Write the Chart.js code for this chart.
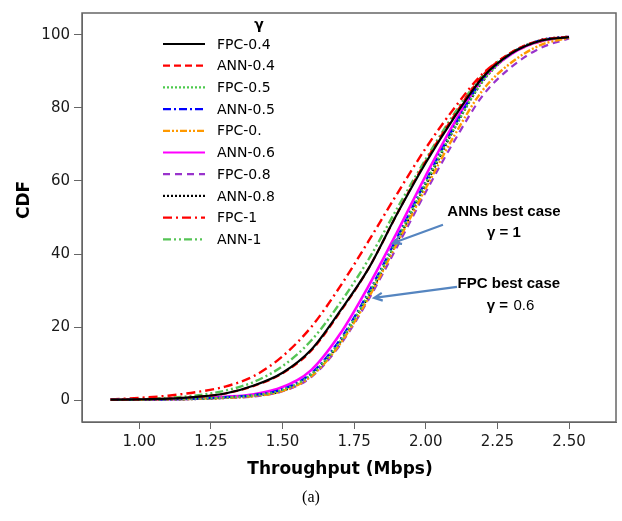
<!DOCTYPE html>
<html>
<head>
<meta charset="utf-8">
<script src="https://cdn.jsdelivr.net/npm/chart.js@4"></script>
<style>
  body { margin: 0; background: #fff; }
  canvas { display: block; }
</style>
</head>
<body>
<canvas id="cdf" width="622" height="521"></canvas>
<script>
// throughput samples (Mbps) and CDF values (%)
const throughput = [0.9, 1.0, 1.1, 1.2, 1.3, 1.4, 1.5, 1.6, 1.7, 1.8, 1.9, 2.0, 2.1, 2.2, 2.3, 2.4, 2.5];

const fpc04 = [0.1, 0.2, 0.4, 0.9, 1.8, 4.0, 7.5, 13.8, 24.3, 36, 51, 65, 77.5, 88.5, 95, 98.4, 99.4];
const ann04 = [0.1, 0.2, 0.4, 0.9, 1.8, 3.9, 7.3, 13.5, 24, 36, 51, 65.5, 78, 89, 95.3, 98.5, 99.5];
const fpc05 = [0.1, 0.1, 0.2, 0.4, 0.7, 1.3, 2.8, 7.0, 16, 29, 44, 59.5, 74.5, 87.5, 95, 98.4, 99.4];
const ann05 = [0.1, 0.1, 0.2, 0.4, 0.8, 1.4, 3.0, 7.3, 16.5, 29.5, 44.5, 60, 75, 88, 95, 98.5, 99.5];
const fpc06 = [0.1, 0.1, 0.2, 0.35, 0.6, 1.1, 2.5, 6.5, 15.3, 28, 43, 58, 72.5, 85, 92.5, 97.2, 99.2];
const ann06 = [0.1, 0.1, 0.25, 0.5, 0.9, 1.6, 3.6, 8.2, 18, 31.2, 46, 61.5, 76, 88, 94.8, 98.3, 99.4];
const fpc08 = [0.1, 0.05, 0.15, 0.3, 0.6, 1.0, 2.4, 6.3, 15, 27.5, 42, 57, 71, 83.5, 91.3, 96.4, 99];
const ann08 = [0.1, 0.1, 0.2, 0.35, 0.65, 1.2, 2.6, 6.8, 15.8, 28.5, 43.5, 59, 74.5, 87.5, 95, 98.5, 99.5];
const fpc1 = [0.2, 0.6, 1.2, 2.2, 3.7, 6.6, 12, 20, 31, 43.5, 56.5, 69, 80, 89.5, 95, 98.2, 99.4];
const ann1 = [0.1, 0.3, 0.6, 1.3, 2.6, 5.0, 9.3, 16.3, 26.5, 38.5, 52.5, 66, 78.5, 89, 95.2, 98.3, 99.3];

const seriesNames = ['FPC-0.4', 'ANN-0.4', 'FPC-0.5', 'ANN-0.5', 'FPC-0.', 'ANN-0.6', 'FPC-0.8', 'ANN-0.8', 'FPC-1', 'ANN-1'];
const seriesValues = [fpc04, ann04, fpc05, ann05, fpc06, ann06, fpc08, ann08, fpc1, ann1];

const xTicks = [1.00, 1.25, 1.50, 1.75, 2.00, 2.25, 2.50];
const yTicks = [0, 20, 40, 60, 80, 100];

// line looks per series, same order as above
const lineColors = ['#000000', '#ff0000', '#4cc94c', '#0000ff', '#ff9900', '#ff00ff', '#9933cc', '#000000', '#ff0000', '#55c455'];
const lineDashes = [[], [7, 4], [2, 2], [8, 3, 2, 3], [7, 2, 2, 2, 2, 2], [], [7, 5], [2, 2], [9, 4, 2, 4], [8, 3, 2, 3, 2, 3]];
const lineWidths = [2.2, 2.2, 2.4, 2.2, 2.4, 2.6, 2.2, 2.6, 2.4, 2.4];

const datasets = seriesValues.map((vals, i) => ({
    label: seriesNames[i],
    data: vals.map((v, j) => ({ x: throughput[j], y: v })),
    borderColor: lineColors[i],
    borderDash: lineDashes[i],
    borderWidth: lineWidths[i],
    pointRadius: 0,
    fill: false,
    cubicInterpolationMode: 'monotone',
}));

const tickFont = { family: 'DejaVu Sans', size: 15 };
const gridOpts = {
    display: true,
    drawOnChartArea: false,
    drawTicks: true,
    color: '#666',
    lineWidth: 1,
};

// frame, legend inside the plot, arrows, axis titles and caption
const extras = {
    id: 'extras',
    afterDraw(chart) {
        const ctx = chart.ctx;
        const area = chart.chartArea;
        const xs = chart.scales.x;
        const ys = chart.scales.y;
        ctx.save();

        ctx.strokeStyle = '#666';
        ctx.lineWidth = 1.5;
        ctx.strokeRect(area.left, area.top, area.right - area.left, area.bottom - area.top);

        // legend
        ctx.fillStyle = '#000';
        ctx.font = 'bold 14px "DejaVu Sans"';
        ctx.textAlign = 'center';
        ctx.textBaseline = 'middle';
        ctx.fillText('γ', 259, 25);
        ctx.font = '14px "DejaVu Sans"';
        ctx.textAlign = 'left';
        chart.data.datasets.forEach((ds, i) => {
            const y = 44 + i * 21.7;
            ctx.strokeStyle = ds.borderColor;
            ctx.lineWidth = 2.2;
            ctx.setLineDash(ds.borderDash);
            ctx.beginPath();
            ctx.moveTo(163, y);
            ctx.lineTo(205, y);
            ctx.stroke();
            ctx.setLineDash([]);
            ctx.fillStyle = '#000';
            ctx.fillText(ds.label, 217, y + 1);
        });

        // annotations with arrows
        const arrow = (x1, y1, x2, y2) => {
            const p1 = [xs.getPixelForValue(x1), ys.getPixelForValue(y1)];
            const p2 = [xs.getPixelForValue(x2), ys.getPixelForValue(y2)];
            const a = Math.atan2(p2[1] - p1[1], p2[0] - p1[0]);
            ctx.strokeStyle = '#5585c0';
            ctx.lineWidth = 2.2;
            ctx.beginPath();
            ctx.moveTo(p1[0], p1[1]);
            ctx.lineTo(p2[0], p2[1]);
            ctx.moveTo(p2[0] - 9 * Math.cos(a - 0.45), p2[1] - 9 * Math.sin(a - 0.45));
            ctx.lineTo(p2[0], p2[1]);
            ctx.lineTo(p2[0] - 9 * Math.cos(a + 0.45), p2[1] - 9 * Math.sin(a + 0.45));
            ctx.stroke();
        };
        arrow(2.06, 48, 1.886, 43);
        arrow(2.109, 31, 1.82, 28);

        ctx.fillStyle = '#000';
        ctx.textAlign = 'center';
        ctx.font = 'bold 15px "Liberation Sans"';
        ctx.fillText('ANNs best case', xs.getPixelForValue(2.273), ys.getPixelForValue(51.5));
        ctx.fillText('γ = 1', xs.getPixelForValue(2.273), ys.getPixelForValue(45.8));
        ctx.fillText('FPC best case', xs.getPixelForValue(2.29), ys.getPixelForValue(31.8));
        ctx.textAlign = 'left';
        const gx = xs.getPixelForValue(2.29) - 22;
        const gy = ys.getPixelForValue(25.8);
        ctx.fillText('γ =', gx, gy);
        ctx.font = '15px "Liberation Sans"';
        ctx.fillText(' 0.6', gx + ctx.measureText('γ =').width + 2, gy);

        // axis titles
        ctx.textAlign = 'center';
        ctx.font = 'bold 17px "DejaVu Sans"';
        ctx.fillText('Throughput (Mbps)', 340, 470);
        ctx.save();
        ctx.translate(25, 200);
        ctx.rotate(-Math.PI / 2);
        ctx.fillText('CDF', 0, 0);
        ctx.restore();

        // caption
        ctx.font = '16px "Liberation Serif"';
        ctx.fillText('(a)', 311, 498);
        ctx.restore();
    },
};

new Chart(document.getElementById('cdf'), {
    type: 'line',
    data: { datasets: datasets },
    options: {
        responsive: false,
        animation: false,
        layout: { padding: { left: 0, top: 7, right: 6, bottom: 39 } },
        plugins: {
            legend: { display: false },
            tooltip: { enabled: false },
        },
        scales: {
            x: {
                type: 'linear',
                min: 0.8,
                max: 2.664,
                afterBuildTicks: (scale) => {
                    scale.ticks = xTicks.map((v) => ({ value: v }));
                },
                afterFit: (scale) => {
                    scale.height = 60;
                },
                ticks: {
                    font: tickFont,
                    color: '#1a1a1a',
                    padding: 4,
                    maxRotation: 0,
                    callback: (v) => Number(v).toFixed(2),
                },
                grid: { ...gridOpts, tickLength: 7 },
                border: { display: true, color: '#666' },
            },
            y: {
                min: -6,
                max: 106,
                afterBuildTicks: (scale) => {
                    scale.ticks = yTicks.map((v) => ({ value: v }));
                },
                afterFit: (scale) => {
                    scale.width = 82;
                },
                ticks: {
                    font: tickFont,
                    color: '#1a1a1a',
                    padding: 4,
                },
                grid: { ...gridOpts, tickLength: 8 },
                border: { display: true, color: '#666' },
            },
        },
    },
    plugins: [extras],
});
</script>
</body>
</html>
